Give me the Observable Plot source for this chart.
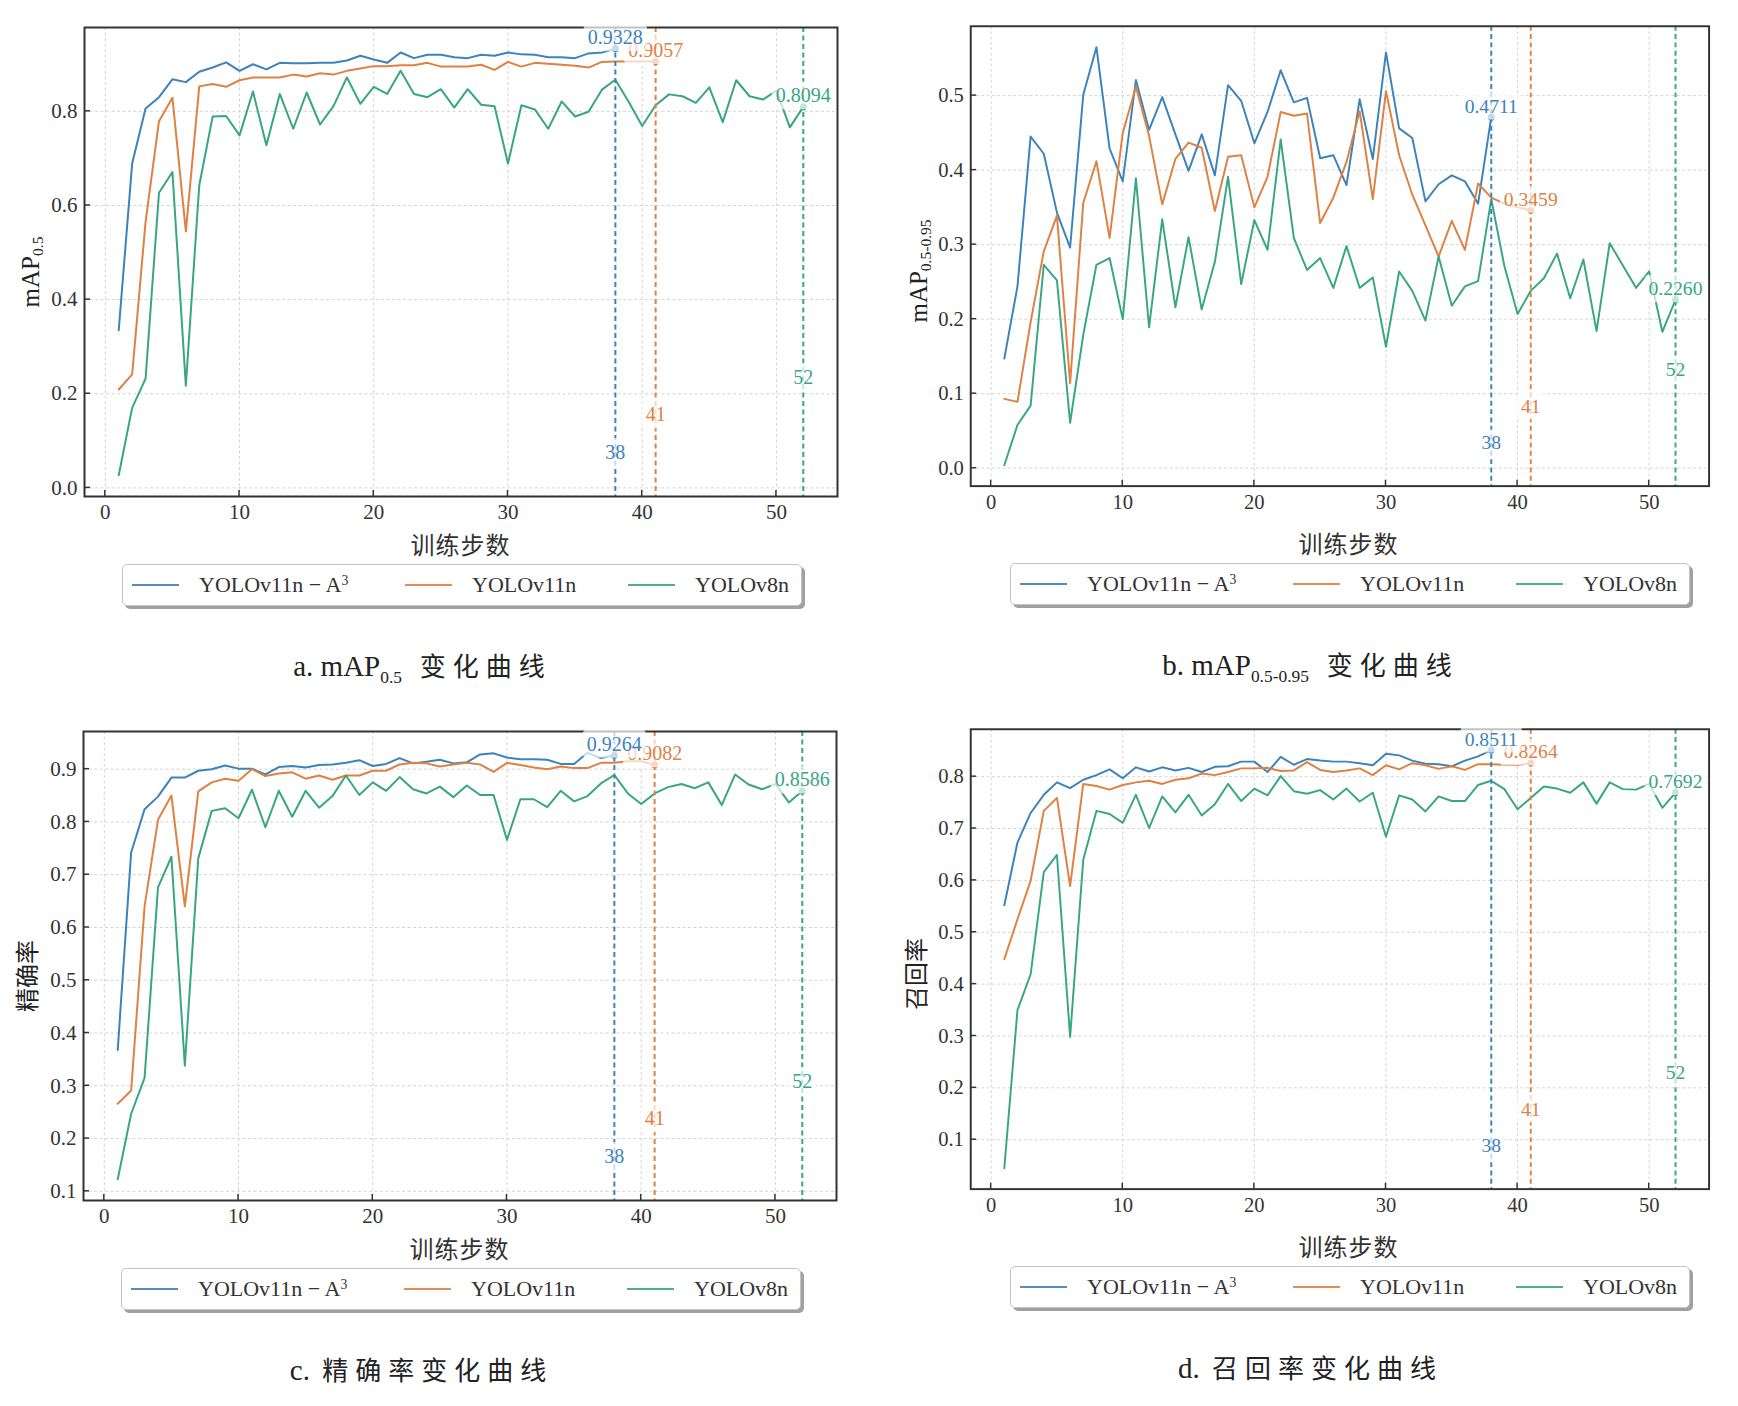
<!DOCTYPE html>
<html><head><meta charset="utf-8">
<script src="https://cdn.jsdelivr.net/npm/d3@7"></script>
<script src="https://cdn.jsdelivr.net/npm/@observablehq/plot@0.6"></script>
<style>
body{margin:0;background:#fff;}
#fig{position:relative;width:1738px;height:1406px;overflow:hidden;background:#fff;font-family:"Liberation Serif","DejaVu Serif",serif;color:#333;}
.panel{position:absolute;}
.panel svg{overflow:visible;}
.ylab{position:absolute;transform:translate(-50%,-50%) rotate(-90deg);white-space:nowrap;font-size:25px;color:#222;}
.ylab.cjk{font-family:"Noto Sans CJK SC",sans-serif;font-size:24px;}
.ylab sub{font-size:0.62em;vertical-align:-0.3em;}
.xlab{position:absolute;transform:translate(-50%,-50%);white-space:nowrap;font-family:"Noto Sans CJK SC",sans-serif;font-size:24px;letter-spacing:1px;color:#333;}
.legend{position:absolute;border:1px solid #c4c4c4;border-radius:5px;background:#fff;box-shadow:3px 3px 0 #a0a0a0;box-sizing:border-box;}
.item{position:absolute;top:0;height:100%;display:flex;align-items:center;white-space:nowrap;font-size:22px;color:#333;}
.swatch{display:inline-block;width:47px;height:2.5px;margin-right:20px;opacity:0.9;}
.item sup{font-size:0.62em;vertical-align:0.55em;line-height:0;}
.cap{position:absolute;transform:translate(-50%,-50%);white-space:nowrap;font-size:29px;color:#222;}
.cap sub{font-size:0.6em;vertical-align:-0.45em;line-height:0;}
.cap .c{font-family:"Noto Sans CJK SC",sans-serif;font-size:26px;letter-spacing:7px;margin-left:5px;}
</style></head>
<body><div id="fig"></div>
<script>
// ---------- data ----------
const steps = [1,2,3,4,5,6,7,8,9,10,11,12,13,14,15,16,17,18,19,20,21,22,23,24,25,26,27,28,29,30,31,32,33,34,35,36,37,38,39,40,41,42,43,44,45,46,47,48,49,50,51,52];
const xTicks = [0,10,20,30,40,50];
const models = ["YOLOv11n − A3", "YOLOv11n", "YOLOv8n"];
const bestEpochs = [38, 41, 52];

// a. mAP0.5
const mapBlue = [0.335,0.689,0.806,0.830,0.868,0.862,0.884,0.893,0.904,0.886,0.900,0.889,0.903,0.902,0.902,0.903,0.903,0.908,0.918,0.910,0.903,0.925,0.913,0.920,0.920,0.915,0.913,0.920,0.918,0.925,0.921,0.920,0.915,0.915,0.913,0.923,0.925,0.9328];
const mapOrange = [0.209,0.241,0.565,0.779,0.829,0.545,0.853,0.858,0.852,0.866,0.872,0.872,0.872,0.878,0.874,0.881,0.878,0.886,0.891,0.896,0.896,0.898,0.898,0.903,0.895,0.895,0.895,0.899,0.888,0.905,0.895,0.903,0.901,0.899,0.897,0.893,0.905,0.906,0.906,0.906,0.9057];
const mapGreen = [0.027,0.170,0.232,0.627,0.671,0.217,0.643,0.789,0.790,0.749,0.842,0.728,0.837,0.763,0.840,0.772,0.811,0.872,0.816,0.852,0.837,0.886,0.837,0.830,0.847,0.808,0.847,0.814,0.811,0.689,0.813,0.804,0.763,0.821,0.789,0.799,0.846,0.867,0.820,0.769,0.813,0.836,0.832,0.818,0.851,0.777,0.866,0.832,0.825,0.844,0.766,0.8094];
const yTicksA = [0,0.2,0.4,0.6,0.8];

// b. mAP0.5-0.95
const map95Blue = [0.147,0.244,0.445,0.422,0.343,0.296,0.501,0.565,0.429,0.385,0.521,0.454,0.498,0.448,0.399,0.448,0.393,0.514,0.493,0.436,0.478,0.534,0.491,0.497,0.416,0.420,0.380,0.495,0.415,0.558,0.456,0.443,0.358,0.381,0.393,0.385,0.355,0.4711];
const map95Orange = [0.093,0.089,0.196,0.291,0.339,0.114,0.356,0.412,0.309,0.450,0.512,0.446,0.354,0.415,0.437,0.430,0.345,0.418,0.420,0.350,0.391,0.478,0.473,0.476,0.329,0.363,0.411,0.479,0.361,0.506,0.420,0.367,0.326,0.284,0.332,0.293,0.382,0.363,0.355,0.350,0.3459];
const map95Green = [0.004,0.058,0.084,0.273,0.252,0.061,0.179,0.273,0.282,0.200,0.389,0.189,0.334,0.216,0.310,0.213,0.277,0.391,0.247,0.333,0.293,0.441,0.309,0.266,0.282,0.242,0.298,0.242,0.256,0.163,0.264,0.238,0.198,0.284,0.218,0.244,0.251,0.361,0.271,0.207,0.238,0.255,0.288,0.228,0.280,0.184,0.302,0.272,0.242,0.264,0.183,0.2260];
const yTicksB = [0,0.1,0.2,0.3,0.4,0.5];

// c. precision
const precBlue = [0.368,0.742,0.824,0.848,0.884,0.884,0.897,0.900,0.907,0.901,0.901,0.890,0.904,0.906,0.903,0.908,0.909,0.912,0.917,0.906,0.910,0.921,0.911,0.914,0.918,0.911,0.913,0.928,0.930,0.922,0.919,0.919,0.918,0.910,0.910,0.931,0.921,0.9264];
const precOrange = [0.266,0.291,0.640,0.804,0.850,0.640,0.858,0.875,0.882,0.878,0.900,0.887,0.892,0.894,0.882,0.888,0.880,0.888,0.888,0.897,0.897,0.909,0.912,0.911,0.905,0.909,0.912,0.909,0.895,0.912,0.908,0.903,0.900,0.905,0.902,0.902,0.912,0.912,0.915,0.915,0.9082];
const precGreen = [0.123,0.247,0.315,0.676,0.734,0.338,0.731,0.821,0.826,0.807,0.861,0.790,0.859,0.810,0.859,0.827,0.849,0.888,0.851,0.875,0.859,0.885,0.862,0.854,0.867,0.847,0.869,0.851,0.851,0.766,0.843,0.843,0.828,0.859,0.839,0.849,0.873,0.889,0.854,0.834,0.854,0.866,0.872,0.864,0.875,0.832,0.890,0.871,0.862,0.872,0.837,0.8586];
const yTicksC = [0.1,0.2,0.3,0.4,0.5,0.6,0.7,0.8,0.9];

// d. recall
const recBlue = [0.552,0.673,0.730,0.765,0.789,0.778,0.794,0.803,0.814,0.797,0.818,0.810,0.818,0.812,0.817,0.809,0.819,0.820,0.829,0.829,0.809,0.838,0.823,0.834,0.831,0.829,0.829,0.826,0.822,0.844,0.841,0.831,0.825,0.824,0.820,0.831,0.839,0.8511];
const recOrange = [0.448,0.525,0.599,0.734,0.759,0.589,0.786,0.782,0.775,0.784,0.789,0.792,0.786,0.794,0.797,0.806,0.803,0.809,0.816,0.816,0.817,0.811,0.812,0.828,0.813,0.809,0.812,0.816,0.803,0.822,0.814,0.826,0.822,0.815,0.820,0.813,0.824,0.824,0.823,0.822,0.8264];
const recGreen = [0.045,0.350,0.419,0.616,0.649,0.298,0.640,0.734,0.728,0.711,0.765,0.701,0.762,0.731,0.765,0.725,0.747,0.786,0.753,0.777,0.764,0.801,0.772,0.767,0.774,0.756,0.777,0.752,0.769,0.684,0.764,0.756,0.733,0.762,0.753,0.753,0.784,0.792,0.776,0.737,0.759,0.781,0.777,0.769,0.789,0.748,0.789,0.776,0.775,0.786,0.740,0.7692];
const yTicksD = [0.1,0.2,0.3,0.4,0.5,0.6,0.7,0.8];

// ---------- style / layout ----------
const colors = ["#3c83bb", "#de8142", "#38a683"];
const W = 753, H = 469;
const ML = 90, MT = 12, MR = 30, MB = 34;
const labelFracs = [0.08, 0.16, 0.24];
const legendOffsets = [9, 282, 505];

const panels = [
  {left: 84, top: 27, series: [mapBlue, mapOrange, mapGreen], yTicks: yTicksA,
   ylabel: 'mAP<sub>0.5</sub>', cjk: false, caption: 'a. mAP<sub>0.5</sub><span class="c"> 变化曲线</span>'},
  {left: 972, top: 26, series: [map95Blue, map95Orange, map95Green], yTicks: yTicksB,
   ylabel: 'mAP<sub>0.5-0.95</sub>', cjk: false, caption: 'b. mAP<sub>0.5-0.95</sub><span class="c"> 变化曲线</span>'},
  {left: 83, top: 731, series: [precBlue, precOrange, precGreen], yTicks: yTicksC,
   ylabel: '精确率', cjk: true, caption: 'c. <span class="c">精确率变化曲线</span>'},
  {left: 972, top: 729, series: [recBlue, recOrange, recGreen], yTicks: yTicksD,
   ylabel: '召回率', cjk: true, caption: 'd. <span class="c">召回率变化曲线</span>'}
];

const fig = document.getElementById("fig");
const fmt1 = d3.format(".1f");

function inTicks(xt, yt) {
  return (index, scales, values, dims) => {
    const g = d3.create("svg:g").attr("stroke", "#333").attr("stroke-width", 1.5);
    const y0 = dims.height - dims.marginBottom, x0 = dims.marginLeft;
    for (const t of xt) { const x = scales.x(t); g.append("line").attr("x1", x).attr("x2", x).attr("y1", y0).attr("y2", y0 - 6); }
    for (const t of yt) { const y = scales.y(t); g.append("line").attr("x1", x0).attr("x2", x0 + 6).attr("y1", y).attr("y2", y); }
    return g.node();
  };
}

const xlo = d3.min(steps), xhi = d3.max(steps), xpad = 0.05 * (xhi - xlo);

for (const p of panels) {
  const all = p.series.flat();
  const lo = d3.min(all), hi = d3.max(all), pad = 0.05 * (hi - lo);
  const yDom = [lo - pad, hi + pad];
  const rows = p.series.map(vals => vals.map((v, i) => ({step: steps[i], value: v})));
  const best = p.series.map((vals, k) => ({epoch: bestEpochs[k], value: vals[bestEpochs[k] - 1], k}));

  const marks = [
    Plot.gridX(xTicks, {stroke: "#d4d4d4", strokeOpacity: 1, strokeWidth: 1, strokeDasharray: "3,2.5"}),
    Plot.gridY(p.yTicks, {stroke: "#d4d4d4", strokeOpacity: 1, strokeWidth: 1, strokeDasharray: "3,2.5"})
  ];
  rows.forEach((r, k) => marks.push(Plot.line(r, {x: "step", y: "value", stroke: colors[k], strokeWidth: 2})));
  best.forEach((b, k) => marks.push(Plot.ruleX([b], {x: "epoch", stroke: colors[k], strokeWidth: 2, strokeDasharray: "5,3.5"})));
  best.forEach((b, k) => marks.push(Plot.dot([b], {x: "epoch", y: "value", r: 3.5, fill: colors[k], stroke: "none"})));
  marks.push(Plot.frame({stroke: "#333", strokeWidth: 2}));
  marks.push(inTicks(xTicks, p.yTicks));
  marks.push(Plot.axisX(xTicks, {tickSize: 0, tickPadding: 8, fontSize: 21, tickFormat: d => String(d), label: null}));
  marks.push(Plot.axisY(p.yTicks, {tickSize: 0, tickPadding: 7, fontSize: 21, tickFormat: fmt1, label: null}));
  best.forEach((b, k) => marks.push(Plot.text([b], {x: "epoch", frameAnchor: "bottom", dy: -labelFracs[k] * H, text: d => String(d.epoch), fill: colors[k], fontSize: 20, ariaDescription: "boxed"})));
  [...best].reverse().forEach(b => marks.push(Plot.text([b], {x: "epoch", y: "value", text: d => d.value.toFixed(4), fill: colors[b.k], dy: -11, fontSize: 20, ariaDescription: "boxed"})));

  const svg = Plot.plot({
    width: ML + W + MR, height: MT + H + MB,
    marginLeft: ML, marginTop: MT, marginRight: MR, marginBottom: MB,
    style: {fontFamily: '"Liberation Serif", serif', fontSize: "21px", color: "#333", background: "transparent", overflow: "visible"},
    x: {domain: [xlo - xpad, xhi + xpad]},
    y: {domain: yDom},
    marks
  });
  const div = document.createElement("div");
  div.className = "panel";
  div.style.left = (p.left - ML) + "px";
  div.style.top = (p.top - MT) + "px";
  div.appendChild(svg);
  fig.appendChild(div);

  // white translucent boxes behind annotation texts
  svg.querySelectorAll('g[aria-description="boxed"] text').forEach(t => {
    const bb = t.getBBox(), padB = 4;
    const r = document.createElementNS("http://www.w3.org/2000/svg", "rect");
    r.setAttribute("x", bb.x - padB); r.setAttribute("y", bb.y - padB + 1);
    r.setAttribute("width", bb.width + 2 * padB); r.setAttribute("height", bb.height + 2 * padB - 2);
    r.setAttribute("rx", 4); r.setAttribute("fill", "#fff"); r.setAttribute("fill-opacity", 0.7);
    const tr = t.getAttribute("transform"); if (tr) r.setAttribute("transform", tr);
    t.parentNode.insertBefore(r, t);
  });

  const fb = p.top + H, cx = p.left + W / 2;
  const yl = document.createElement("div");
  yl.className = "ylab" + (p.cjk ? " cjk" : "");
  yl.innerHTML = p.ylabel;
  yl.style.left = (p.left - (p.cjk ? 58 : 52)) + "px";
  yl.style.top = (p.top + H / 2 + 10) + "px";
  fig.appendChild(yl);

  const xl = document.createElement("div");
  xl.className = "xlab"; xl.textContent = "训练步数";
  xl.style.left = cx + "px"; xl.style.top = (fb + 47) + "px";
  fig.appendChild(xl);

  const lg = document.createElement("div");
  lg.className = "legend";
  lg.style.left = (p.left + 38) + "px"; lg.style.top = (fb + 68) + "px";
  lg.style.width = "680px"; lg.style.height = "42px";
  models.forEach((m, k) => {
    const it = document.createElement("div");
    it.className = "item"; it.style.left = legendOffsets[k] + "px";
    const sw = document.createElement("span"); sw.className = "swatch"; sw.style.background = colors[k];
    const tx = document.createElement("span");
    tx.innerHTML = m.endsWith("A3") ? m.slice(0, -1) + "<sup>3</sup>" : m;
    it.appendChild(sw); it.appendChild(tx); lg.appendChild(it);
  });
  fig.appendChild(lg);

  const cp = document.createElement("div");
  cp.className = "cap"; cp.innerHTML = p.caption;
  cp.style.left = (cx - 38) + "px"; cp.style.top = (fb + 168) + "px";
  fig.appendChild(cp);
}
</script></body></html>
